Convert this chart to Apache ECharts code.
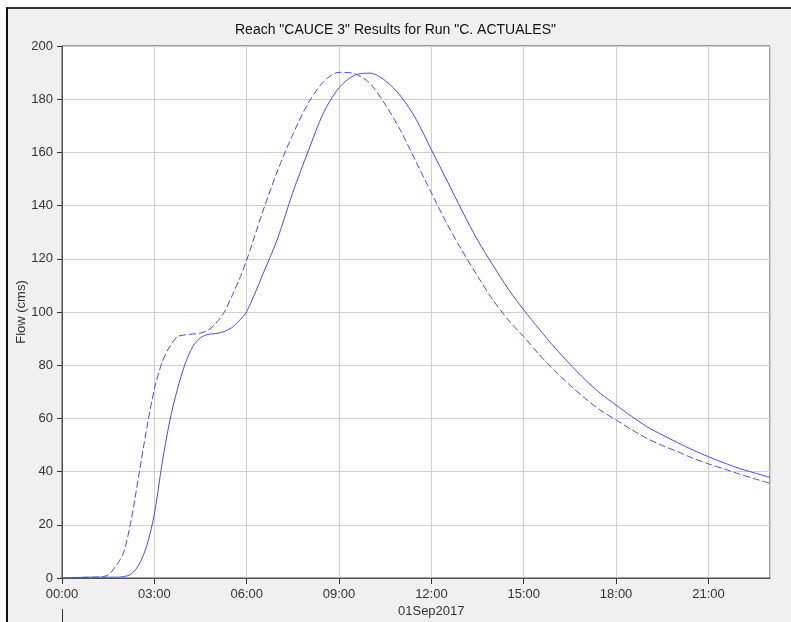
<!DOCTYPE html>
<html>
<head>
<meta charset="utf-8">
<title>Reach CAUCE 3</title>
<script src="https://cdn.jsdelivr.net/npm/echarts@6/dist/echarts.min.js"></script>
<style>
  html, body { margin: 0; padding: 0; background: #fff; }
  .frame {
    position: absolute; left: 6px; top: 7px; width: 785px; height: 615px;
    background: #f0f0f0; border-left: 2px solid #111; border-top: 2px solid #333;
  }
  #chart { position: absolute; left: 0; top: 0; width: 791px; height: 622px; }
</style>
</head>
<body>
<div class="frame"></div>
<div id="chart"></div>
<script>
// horas desde 00:00 del 01Sep2017
const hours = [0, 0.5, 1, 1.25, 1.5, 1.75, 2, 2.25, 2.5, 2.75, 3, 3.25, 3.5, 3.75, 4, 4.25, 4.5, 4.75,
  5, 5.25, 5.5, 5.75, 6, 6.5, 7, 7.5, 8, 8.5, 9, 9.5, 10, 10.5, 11, 11.5, 12, 12.5, 13, 13.5,
  14, 14.5, 15, 15.5, 16, 16.5, 17, 17.5, 18, 18.5, 19, 19.5, 20, 20.5, 21, 21.5, 22, 22.5, 23]

// salida (linea continua)
const outflow = [0, 0.2, 0.3, 0.3, 0.3, 0.3, 0.5, 1.5, 5, 12, 24, 43, 59, 71, 80.5, 87, 90.3, 91.6,
  91.9, 92.6, 94, 96.7, 100.1, 113.5, 127.5, 145, 160.5, 175, 184.3, 189, 189.8, 187, 181.2, 172.5,
  161, 149.6, 138, 127, 117.6, 108.6, 100.8, 93.6, 86.7, 80.4, 74.5, 69.3, 65, 60.8, 56.9, 53.8, 50.9,
  48.1, 45.6, 43.3, 41.2, 39.5, 37.8]

// entrada (linea discontinua)
const inflow = [0, 0.2, 0.3, 0.4, 1.2, 4.5, 9.5, 22, 39, 56, 71, 81, 87, 90.7, 91.4, 91.7, 92.1, 93.2,
  95.8, 99.5, 105.5, 112, 119.5, 137, 153, 166.8, 178.5, 186.6, 190.1, 189.6, 186, 178, 168.2, 156.5,
  144.8, 133.3, 123, 113.5, 104.5, 97, 90.7, 84, 78, 72.5, 67.5, 63, 59.4, 55.8, 52.5, 49.8, 47.5,
  45, 42.9, 41, 39.1, 37.3, 35.6]

const dateLabel = '01Sep2017'

const font = '"Liberation Sans", Arial, sans-serif'
const lineColor = '#4a4aff'

const chart = echarts.init(document.getElementById('chart'))
chart.setOption({
  animation: false,
  backgroundColor: 'transparent',
  textStyle: { fontFamily: font },
  title: {
    text: 'Reach "CAUCE 3" Results for Run "C. ACTUALES"',
    left: 'center',
    top: 18,
    textStyle: { fontSize: 14, fontWeight: 'normal', color: '#111', fontFamily: font },
  },
  grid: {
    left: 62,
    right: 21,
    top: 46,
    bottom: 44,
    show: true,
    backgroundColor: '#fff',
    borderColor: '#444',
    borderWidth: 1,
  },
  xAxis: {
    type: 'value',
    min: 0,
    max: 23,
    interval: 3,
    axisLine: { lineStyle: { color: '#555' } },
    axisTick: { show: true, length: 6, lineStyle: { color: '#333' } },
    axisLabel: {
      fontSize: 13,
      color: '#333',
      margin: 10,
      showMaxLabel: false,
      formatter: (v) => String(v).padStart(2, '0') + ':00',
    },
    splitLine: { show: true, lineStyle: { color: '#cfcfcf', width: 1 } },
  },
  yAxis: {
    type: 'value',
    min: 0,
    max: 200,
    interval: 20,
    name: 'Flow (cms)',
    nameLocation: 'middle',
    nameGap: 34,
    nameMoveOverlap: false,
    nameTextStyle: { fontSize: 13, color: '#333' },
    axisLine: { show: true, lineStyle: { color: '#555' } },
    axisTick: { show: true, length: 5, lineStyle: { color: '#333' } },
    axisLabel: { fontSize: 13, color: '#333', margin: 9 },
    splitLine: { show: true, lineStyle: { color: '#cfcfcf', width: 1 } },
  },
  graphic: [
    {
      // fecha centrada en el mediodia
      type: 'text',
      left: 398,
      top: 605,
      style: { text: dateLabel, fontSize: 13, fill: '#333', fontFamily: font },
    },
    {
      type: 'line',
      shape: { x1: 62.5, y1: 609, x2: 62.5, y2: 622 },
      style: { stroke: '#333', lineWidth: 1 },
    },
  ],
  series: [
    {
      name: 'Outflow',
      type: 'line',
      data: hours.map((h, i) => [h, outflow[i]]),
      showSymbol: false,
      smooth: 0.3,
      lineStyle: { color: lineColor, width: 1 },
    },
    {
      name: 'Inflow',
      type: 'line',
      data: hours.map((h, i) => [h, inflow[i]]),
      showSymbol: false,
      smooth: 0.3,
      lineStyle: { color: lineColor, width: 1, type: [7, 3] },
    },
  ],
})
</script>
</body>
</html>
